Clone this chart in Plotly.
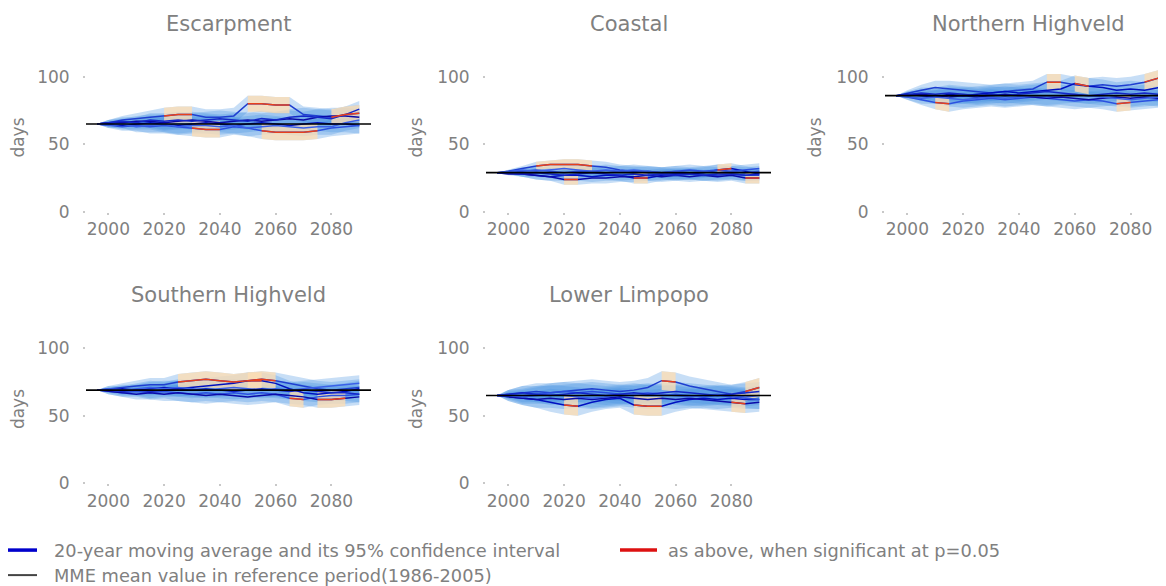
import plotly.graph_objects as go
from plotly.subplots import make_subplots

# 20-year moving averages (centre year), days
YEARS = [1996, 2000, 2005, 2010, 2015, 2020, 2025, 2030, 2035, 2040,
         2045, 2050, 2055, 2060, 2065, 2070, 2075, 2080, 2085, 2090]

REGIONS = ['Escarpment', 'Coastal', 'Northern Highveld',
           'Southern Highveld', 'Lower Limpopo']
REF_MEAN = [65, 29, 86, 69, 65]

ESC_LINES = [
    [65, 66, 68, 69, 70, 71, 72, 72, 70, 70, 71, 80, 80, 79, 79, 72, 71, 70, 72, 73],
    [65, 65, 64, 65, 66, 65, 64, 65, 66, 65, 64, 65, 66, 65, 64, 65, 66, 65, 65, 64],
    [65, 64, 63, 64, 63, 64, 63, 62, 61, 61, 63, 62, 60, 59, 59, 59, 60, 62, 63, 64],
    [65, 66, 66, 67, 67, 66, 67, 68, 67, 66, 67, 68, 67, 68, 69, 68, 70, 71, 71, 70],
    [65, 64, 65, 63, 64, 65, 63, 64, 64, 63, 64, 62, 63, 64, 63, 62, 63, 63, 66, 68],
    [65, 66, 67, 66, 68, 67, 68, 67, 68, 69, 68, 67, 69, 68, 70, 71, 70, 69, 72, 76],
]
ESC_SIG = [
    [0, 0, 0, 0, 0, 1, 1, 1, 0, 0, 0, 1, 1, 1, 1, 0, 0, 1, 1, 1],
    [0] * 20,
    [0, 0, 0, 0, 0, 0, 0, 1, 1, 1, 0, 0, 1, 1, 1, 1, 1, 0, 0, 0],
    [0] * 20,
    [0] * 20,
    [0] * 20,
]
ESC_HALF = [0, 2, 3, 4, 5, 6, 6, 6, 6, 6, 6, 6, 6, 6, 6, 6, 6, 6, 6, 6]

COA_LINES = [
    [29, 30, 32, 34, 35, 35, 35, 34, 33, 31, 30, 29, 29, 28, 28, 27, 27, 28, 27, 27],
    [29, 29, 28, 27, 26, 27, 27, 26, 27, 27, 25, 25, 27, 28, 28, 29, 31, 32, 30, 28],
    [29, 29, 30, 31, 30, 29, 30, 30, 29, 30, 29, 30, 29, 30, 31, 30, 31, 30, 31, 32],
    [29, 28, 28, 27, 26, 24, 24, 25, 25, 26, 26, 27, 26, 27, 26, 27, 26, 27, 25, 25],
    [29, 30, 31, 30, 31, 32, 31, 30, 31, 30, 31, 30, 29, 30, 29, 30, 29, 30, 29, 30],
    [29, 29, 28, 29, 28, 27, 28, 29, 28, 27, 28, 27, 28, 27, 28, 27, 28, 28, 27, 28],
]
COA_SIG = [
    [0, 0, 0, 1, 1, 1, 1, 1, 0, 0, 0, 0, 0, 0, 0, 0, 0, 0, 0, 0],
    [0, 0, 0, 0, 0, 0, 0, 0, 0, 0, 1, 1, 0, 0, 0, 0, 1, 1, 0, 0],
    [0] * 20,
    [0, 0, 0, 0, 0, 1, 1, 0, 0, 0, 0, 0, 0, 0, 0, 0, 0, 0, 1, 1],
    [0] * 20,
    [0] * 20,
]
COA_HALF = [0, 1, 2, 3, 3, 4, 4, 4, 4, 4, 4, 4, 4, 4, 4, 4, 4, 4, 4, 4]

NH_LINES = [
    [86, 88, 90, 92, 91, 90, 89, 88, 89, 90, 91, 96, 96, 94, 93, 94, 93, 94, 96, 99],
    [86, 87, 86, 85, 87, 86, 87, 88, 89, 88, 89, 90, 91, 95, 93, 92, 90, 91, 90, 92],
    [86, 85, 83, 81, 80, 82, 83, 84, 83, 84, 85, 84, 83, 82, 83, 82, 80, 81, 82, 83],
    [86, 86, 87, 86, 85, 86, 85, 86, 87, 86, 85, 84, 85, 84, 83, 84, 85, 84, 85, 84],
    [86, 85, 84, 85, 84, 83, 84, 85, 84, 85, 86, 85, 86, 87, 86, 85, 84, 83, 84, 85],
    [86, 87, 88, 87, 88, 87, 86, 87, 86, 87, 88, 89, 88, 87, 86, 87, 88, 87, 88, 87],
]
NH_SIG = [
    [0, 0, 0, 0, 0, 0, 0, 0, 0, 0, 0, 1, 1, 0, 0, 0, 0, 0, 1, 1],
    [0, 0, 0, 0, 0, 0, 0, 0, 0, 0, 0, 0, 0, 1, 1, 0, 0, 0, 0, 0],
    [0, 0, 0, 1, 1, 0, 0, 0, 0, 0, 0, 0, 0, 0, 0, 0, 1, 1, 0, 0],
    [0] * 20,
    [0] * 20,
    [0] * 20,
]
NH_HALF = [0, 2, 4, 5, 6, 6, 6, 6, 6, 6, 6, 6, 6, 6, 6, 6, 6, 6, 6, 6]

SH_LINES = [
    [69, 70, 71, 72, 73, 73, 75, 76, 77, 76, 75, 76, 77, 76, 74, 72, 70, 69, 70, 71],
    [69, 69, 70, 69, 70, 71, 70, 71, 72, 73, 74, 76, 76, 74, 70, 67, 66, 67, 68, 70],
    [69, 68, 67, 68, 67, 68, 67, 66, 67, 66, 67, 66, 67, 66, 63, 62, 64, 65, 65, 66],
    [69, 68, 67, 66, 67, 66, 67, 66, 65, 66, 65, 64, 65, 66, 65, 64, 62, 62, 63, 64],
    [69, 70, 69, 70, 71, 70, 71, 70, 69, 70, 71, 70, 69, 70, 69, 70, 71, 72, 73, 74],
    [69, 69, 68, 69, 68, 69, 70, 69, 70, 69, 68, 69, 70, 69, 68, 69, 68, 67, 67, 66],
]
SH_SIG = [
    [0, 0, 0, 0, 0, 0, 1, 1, 1, 1, 1, 1, 1, 1, 0, 0, 0, 0, 0, 0],
    [0, 0, 0, 0, 0, 0, 0, 0, 0, 0, 0, 1, 1, 0, 0, 0, 0, 0, 0, 0],
    [0, 0, 0, 0, 0, 0, 0, 0, 0, 0, 0, 0, 0, 0, 1, 1, 0, 0, 0, 0],
    [0, 0, 0, 0, 0, 0, 0, 0, 0, 0, 0, 0, 0, 0, 0, 0, 1, 1, 1, 0],
    [0] * 20,
    [0] * 20,
]
SH_HALF = [0, 2, 3, 4, 5, 5, 6, 6, 6, 6, 6, 6, 6, 6, 6, 6, 6, 6, 6, 6]

LL_LINES = [
    [65, 66, 67, 68, 67, 68, 69, 70, 69, 68, 69, 71, 76, 75, 72, 70, 68, 66, 68, 71],
    [65, 64, 63, 62, 60, 58, 57, 60, 62, 63, 58, 57, 57, 60, 62, 63, 62, 63, 62, 62],
    [65, 66, 65, 66, 67, 68, 67, 68, 67, 66, 65, 66, 65, 66, 65, 64, 65, 64, 63, 62],
    [65, 64, 63, 62, 63, 62, 63, 62, 63, 64, 63, 62, 63, 62, 63, 62, 61, 60, 59, 60],
    [65, 65, 64, 65, 66, 65, 64, 63, 64, 65, 66, 67, 66, 65, 64, 65, 66, 65, 64, 65],
    [65, 66, 67, 66, 65, 66, 67, 66, 65, 66, 67, 66, 67, 68, 67, 66, 65, 66, 67, 68],
]
LL_SIG = [
    [0, 0, 0, 0, 0, 0, 0, 0, 0, 0, 0, 0, 1, 1, 0, 0, 0, 0, 1, 1],
    [0, 0, 0, 0, 0, 1, 1, 0, 0, 0, 1, 1, 1, 0, 0, 0, 0, 0, 0, 0],
    [0] * 20,
    [0, 0, 0, 0, 0, 0, 0, 0, 0, 0, 0, 0, 0, 0, 0, 0, 0, 1, 1, 0],
    [0] * 20,
    [0] * 20,
]
LL_HALF = [0, 3, 5, 6, 7, 7, 7, 7, 7, 7, 7, 7, 7, 7, 7, 7, 7, 7, 7, 7]

ALL_LINES = [ESC_LINES, COA_LINES, NH_LINES, SH_LINES, LL_LINES]
ALL_SIG = [ESC_SIG, COA_SIG, NH_SIG, SH_SIG, LL_SIG]
ALL_HALF = [ESC_HALF, COA_HALF, NH_HALF, SH_HALF, LL_HALF]
POS = [(1, 1), (1, 2), (1, 3), (2, 1), (2, 2)]

BLUES = ['#1f3fd0', '#0010c0', '#2b50e0', '#0a0aa8', '#3a60e8', '#1428c8']
BAND_BLUE = 'rgba(70,145,225,0.30)'
BAND_ORANGE = 'rgba(254,222,180,0.78)'
RED = '#e8401c'
GREY = '#808080'
FONT = 'DejaVu Sans'

# the page is shown with an 8px body margin and a slight vertical squeeze,
# so screen positions are mapped back to figure coordinates
W, H = 1158, 578


def px(x):
    return (x - 8) / W


def py(y):
    return 1 - ((y - 7.3) / 0.982) / H


def runs(mask):
    out, start = [], None
    for i, m in enumerate(mask + [0]):
        if m and start is None:
            start = i
        elif not m and start is not None:
            if i - start >= 2:
                out.append((start, i))
            start = None
    return out


fig = make_subplots(rows=2, cols=3)

for r, name in enumerate(REGIONS):
    row, col = POS[r]
    lines, sigs, half = ALL_LINES[r], ALL_SIG[r], ALL_HALF[r]
    # confidence bands
    for vals in lines:
        up = [v + h for v, h in zip(vals, half)]
        lo = [v - h for v, h in zip(vals, half)]
        fig.add_trace(go.Scatter(x=YEARS + YEARS[::-1], y=up + lo[::-1],
                                 fill='toself', fillcolor=BAND_BLUE,
                                 line=dict(width=0), mode='lines',
                                 hoverinfo='skip', showlegend=False),
                      row=row, col=col)
    for vals, sig in zip(lines, sigs):
        for a, b in runs(sig):
            xs = YEARS[a:b]
            up = [v + h for v, h in zip(vals[a:b], half[a:b])]
            lo = [v - h for v, h in zip(vals[a:b], half[a:b])]
            fig.add_trace(go.Scatter(x=xs + xs[::-1], y=up + lo[::-1],
                                     fill='toself', fillcolor=BAND_ORANGE,
                                     line=dict(width=0), mode='lines',
                                     hoverinfo='skip', showlegend=False),
                          row=row, col=col)
    # moving averages
    for k, vals in enumerate(lines):
        fig.add_trace(go.Scatter(x=YEARS, y=vals, mode='lines',
                                 line=dict(color=BLUES[k], width=1.5),
                                 showlegend=False),
                      row=row, col=col)
    for vals, sig in zip(lines, sigs):
        for a, b in runs(sig):
            fig.add_trace(go.Scatter(x=YEARS[a:b], y=vals[a:b], mode='lines',
                                     line=dict(color=RED, width=1.5),
                                     showlegend=False),
                          row=row, col=col)
    fig.add_hline(y=REF_MEAN[r], line=dict(color='black', width=1.6),
                  row=row, col=col)

# layout of panels (screen pixels converted to paper fractions)
col_dom = {1: [px(86), px(371)], 2: [px(486), px(771)], 3: [px(885), 1.0]}
col_rng = {1: [1992, 2094.2], 2: [1992, 2094.2], 3: [1992, 2092.7]}
row_dom = {1: [py(211), py(62.5)], 2: [py(482.3), py(333.8)]}

for i in range(6):
    row, col = i // 3 + 1, i % 3 + 1
    vis = i < 5
    fig.update_xaxes(domain=col_dom[col], range=col_rng[col], visible=vis,
                     tickvals=[2000, 2020, 2040, 2060, 2080],
                     showgrid=False, zeroline=False, showline=False,
                     ticks='outside', ticklen=2, tickwidth=2, tickcolor='#c8c8c8',
                     tickfont=dict(family=FONT, size=17, color=GREY),
                     row=row, col=col)
    fig.update_yaxes(domain=row_dom[row], range=[0, 110], visible=vis,
                     tickvals=[0, 50, 100],
                     showgrid=False, zeroline=False, showline=False,
                     ticks='outside', ticklen=2, tickwidth=2, tickcolor='#c8c8c8',
                     ticklabelstandoff=10,
                     tickfont=dict(family=FONT, size=17, color=GREY),
                     title=dict(text='days', standoff=10,
                                font=dict(family=FONT, size=17, color=GREY)),
                     row=row, col=col)

titles_x = [px(228.5), px(628.5), px(1028), px(228.5), px(628.5)]
titles_y = [py(23), py(23), py(23), py(294), py(294)]
for name, tx, ty in zip(REGIONS, titles_x, titles_y):
    fig.add_annotation(text=name, x=tx, y=ty, xref='paper', yref='paper',
                       xanchor='center', yanchor='middle', showarrow=False,
                       font=dict(family=FONT, size=21, color=GREY))

# legend drawn by hand at the bottom
legend_items = [
    ('20-year moving average and its 95% confidence interval', '#0000cc', 3.5, 8, 37, 52, 549),
    ('as above, when significant at p=0.05', '#dd1111', 3.5, 620, 657, 666, 549),
    ('MME mean value in reference period(1986-2005)', '#444444', 2, 8, 37, 52, 574),
]
for text, color, w, lx0, lx1, tx, ly in legend_items:
    fig.add_shape(type='line', xref='paper', yref='paper',
                  x0=px(lx0), x1=px(lx1), y0=py(ly), y1=py(ly),
                  line=dict(color=color, width=w))
    fig.add_annotation(text=text, x=px(tx), y=py(ly),
                       xref='paper', yref='paper',
                       xanchor='left', yanchor='middle', showarrow=False,
                       font=dict(family=FONT, size=17.8, color=GREY))

fig.update_layout(width=W, height=H, margin=dict(l=0, r=0, t=0, b=0),
                  plot_bgcolor='white', paper_bgcolor='white',
                  showlegend=False)

fig.write_html('out.html')
